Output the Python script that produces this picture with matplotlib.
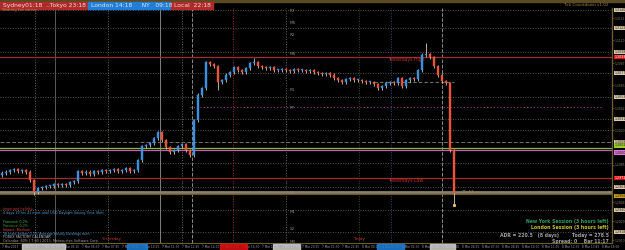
import matplotlib
matplotlib.use("Agg")
import matplotlib.pyplot as plt
from matplotlib.patches import Rectangle

# ---------------- data ----------------
first_open = 1.2975
closes = [
    1.2977, 1.2978, 1.2980, 1.2981, 1.2979, 1.2980, 1.2978, 1.2970, 1.2958, 1.2962,
    1.2963, 1.2964, 1.2964, 1.2966, 1.2965, 1.2966, 1.2965, 1.2968, 1.2969, 1.2979,
    1.2977, 1.2978, 1.2976, 1.2979, 1.2978, 1.2980, 1.2979, 1.2980, 1.2981, 1.2979,
    1.2980, 1.2982, 1.2979, 1.2980, 1.2990, 1.3004, 1.3005, 1.3007, 1.3012, 1.3018,
    1.3010, 1.3003, 1.2998, 1.3000, 1.3004, 1.3006, 1.3000, 1.2995, 1.3030, 1.3055,
    1.3062, 1.3088, 1.3086, 1.3084, 1.3068, 1.3070, 1.3075, 1.3078, 1.3083, 1.3080,
    1.3078, 1.3082, 1.3087, 1.3088, 1.3084, 1.3083, 1.3082, 1.3083, 1.3080, 1.3080,
    1.3081, 1.3080, 1.3079, 1.3081, 1.3080, 1.3080, 1.3079, 1.3080, 1.3078, 1.3077,
    1.3076, 1.3077, 1.3075, 1.3072, 1.3070, 1.3068, 1.3071, 1.3072, 1.3070, 1.3070,
    1.3069, 1.3068, 1.3068, 1.3066, 1.3062, 1.3064, 1.3067, 1.3068, 1.3067, 1.3072,
    1.3064, 1.3070, 1.3072, 1.3071, 1.3080, 1.3095, 1.3096, 1.3093, 1.3084, 1.3075,
    1.3069, 1.3067, 1.3000, 1.2957,
]
spike_bars = [8, 54, 63, 106, 113]
spike_prices = [1.2955, 1.3060, 1.3092, 1.3107, 1.2945]

yesterday_high = 1.3093
yesterday_low = 1.2972
green_level = 1.3002
magenta_level = 1.3000
beige_level = 1.2958
olive_level = 1.2956
grid_levels = [1.3140, 1.3122, 1.3098, 1.3077, 1.3053, 1.3031, 1.3020, 1.2987, 1.2963, 1.2940, 1.2918]
dashed_level = 1.3008
magenta_dotted_level = 1.3043
short_dashed_level = 1.3068

vlines_x = [8.25, 13.25, 26.5, 39.5, 45, 47.5, 57.75, 71, 89.25, 97.25, 110]
vlines_col = ["#6a6a5a", "#5a5a5a", "#6a6a5a", "#808080", "#6a6a5a", "#8a8a8a",
              "#a03030", "#6a6a5a", "#2a5a2a", "#2a4a8a", "#8a8a8a"]
vlines_ls = [":", "-", ":", "-", ":", "--", ":", ":", ":", ":", "--"]

pivot_labels = ["R3", "M5", "R2", "M4", "R1", "PP", "S1", "M1", "S2", "M0"]
pivot_prices = [1.3139, 1.3127, 1.3115, 1.3096, 1.3060, 1.3042, 1.2957, 1.2938, 1.2921, 1.2908]

time_labels = [
    "7 Mar 2013", "7 Mar 02:45", "7 Mar 04:00", "7 Mar 05:15", "7 Mar 06:30",
    "7 Mar 07:45", "7 Mar 09:00", "7 Mar 10:15", "7 Mar 11:30", "7 Mar 12:45",
    "7 Mar 14:00", "7 Mar 15:15", "7 Mar 16:30", "7 Mar 17:45", "7 Mar 19:00",
    "7 Mar 20:15", "7 Mar 21:30", "7 Mar 22:45", "8 Mar 00:00", "8 Mar 01:15",
    "8 Mar 02:30", "8 Mar 03:45", "8 Mar 05:00", "8 Mar 06:15", "8 Mar 07:30",
    "8 Mar 08:45", "8 Mar 10:00", "8 Mar 11:15", "8 Mar 12:30", "8 Mar 13:45",
    "8 Mar 15:00",
]
time_label_bars = [5 * k for k in range(len(time_labels))]

box_levels = [1.3140, 1.3122, 1.3098, 1.3077, 1.3053, 1.3031, 1.3008, 1.2963, 1.2940, 1.2918]
dim_tick_prices = [1.3132, 1.3110, 1.3087, 1.3065, 1.3042, 1.3020, 1.2985, 1.2948, 1.2929, 1.2910]

# ---------------- figure ----------------
W, H = 625, 250
fig = plt.figure(figsize=(6.25, 2.5), dpi=100, facecolor="black")


def fx(x):
    return x / W


def fy(y):
    return 1 - y / H


ax = fig.add_axes([0, fy(243), fx(612), (243 - 8) / H])
ax.set_facecolor("black")
ax.set_xlim(-0.5, 152.5)
ax.set_ylim(1.2907, 1.3142)

for s in ["left", "top"]:
    ax.spines[s].set_visible(False)
ax.spines["right"].set_color("#6b5a2a")
ax.spines["right"].set_linewidth(1.0)
ax.spines["bottom"].set_color("#6b5a2a")
ax.spines["bottom"].set_linewidth(0.8)

ax.yaxis.tick_right()
ax.set_yticks(dim_tick_prices)
ax.set_yticklabels([f"{p:.4f}" for p in dim_tick_prices])
ax.tick_params(axis="y", colors="#8a7e66", labelsize=2.2, length=1.2, width=0.4, pad=0.6)
ax.set_xticks(time_label_bars)
ax.set_xticklabels(time_labels)
ax.tick_params(axis="x", colors="#9a9a9a", labelsize=2.1, length=1.0, width=0.4, pad=0.7)
for lbl in ax.get_xticklabels():
    lbl.set_horizontalalignment("left")

# grid / levels
for lv in grid_levels:
    ax.axhline(lv, color="#707062", lw=0.6, ls=(0, (1, 2)), zorder=1)
ax.axhline(dashed_level, color="#707062", lw=0.7, ls=(0, (4, 2)), zorder=1)
ax.hlines(magenta_dotted_level, 47, 150, color="#a030a0", lw=0.8, ls=(0, (1, 2)), zorder=1)
ax.hlines(short_dashed_level, 93, 113, color="#707062", lw=0.8, ls=(0, (3, 2)), zorder=1)
for x, c, ls in zip(vlines_x, vlines_col, vlines_ls):
    ax.axvline(x, color=c, lw=0.7, ls=ls, zorder=1)

ax.axhline(yesterday_high, color="#a52a2a", lw=0.9, zorder=2)
ax.axhline(yesterday_low, color="#a52a2a", lw=0.9, zorder=2)
ax.axhline(green_level, color="#8cb43c", lw=0.9, zorder=2)
ax.axhline(magenta_level, color="#c060c0", lw=0.9, zorder=2)
ax.axhline(beige_level, color="#8a8070", lw=2.0, zorder=2)
ax.axhline(olive_level, color="#6b5a20", lw=0.8, zorder=2)

# candles
opens = [first_open] + closes[:-1]
for i, (o, c) in enumerate(zip(opens, closes)):
    lo, hi = min(o, c), max(o, c)
    wl, wh = lo - 0.00015, hi + 0.00015
    if i in spike_bars:
        p = spike_prices[spike_bars.index(i)]
        wl, wh = min(wl, p), max(wh, p)
    ax.vlines(i, wl, wh, color="#d8c8a8", lw=0.6, zorder=4)
    col = "#3d8fe0" if c >= o else "#e8553a"
    ax.bar(i, max(hi - lo, 0.00006), bottom=lo, width=0.65, color=col,
           edgecolor=col, linewidth=0.3, zorder=5)
ax.plot(len(closes) - 1, spike_prices[-1], marker="s", ms=1.2, color="#e0c060", zorder=6)

# in-chart labels
ax.text(96.5, yesterday_high - 0.0002, "Yesterdays High", color="#c03030", fontsize=3.3, va="center")
ax.text(96.5, yesterday_low - 0.0002, "Yesterdays Low", color="#c03030", fontsize=3.3, va="center")
ax.text(115, beige_level, "15:47", color="#a08a40", fontsize=3.2, va="center")
for lab, p in zip(pivot_labels, pivot_prices):
    ax.text(72, p, lab, color="#8a8a80", fontsize=3.0, va="center")


# right axis boxes
def rbox(price, text, fc, tc="#201a10"):
    ax.text(1.004, price, text, transform=ax.get_yaxis_transform(), fontsize=2.3,
            color=tc, va="center", ha="left", clip_on=False, zorder=10,
            bbox=dict(boxstyle="square,pad=0.12", fc=fc, ec="none"))


for lv in box_levels:
    rbox(lv, f"{lv:.4f}", "#d8c8a8")
rbox(yesterday_high, f"{yesterday_high:.4f}", "#e01010", "#ffffff")
rbox(yesterday_low, f"{yesterday_low:.4f}", "#e01010", "#ffffff")
rbox(green_level + 0.00025, f"{green_level:.4f}", "#9acd32")
rbox(magenta_level - 0.00025, f"{magenta_level:.4f}", "#da70d6")
rbox(olive_level - 0.0002, f"{olive_level:.4f}", "#c8a020")

# ---------------- header ----------------
fig.add_artist(Rectangle((0, fy(1.5)), 1, 0.006, transform=fig.transFigure, color="#5a4a20"))
header = [(0, 87, "#b02a2a", "Sydney01:18  ..Tokyo 23:18"),
          (88, 170, "#1f7fd8", "London 14:18     NY   09:18"),
          (171, 213, "#b02a2a", "Local  22:18")]
for x0, x1, col, txt in header:
    fig.add_artist(Rectangle((fx(x0), fy(8.5)), fx(x1 - x0), (6.5) / H,
                             transform=fig.transFigure, color=col))
    fig.text(fx(x0 + 3), fy(5.2), txt, color="#f4dede", fontsize=4.3, va="center", ha="left")
fig.text(fx(2), fy(10.5), "Waiting for server...", color="#c08040", fontsize=2.8, va="center")
fig.text(fx(609), fy(4.5), "Tick Countdown v1.02", color="#a08040", fontsize=3.0, va="center", ha="right")

# ---------------- time axis highlight boxes ----------------
hl = [(22, 65, "#d0d0d0"), (127, 147, "#1f7fd8"), (220, 247, "#e01010"),
      (273, 300, "#d0d0d0"), (377, 404, "#1f7fd8"), (430, 455, "#d0d0d0")]
for x0, x1, col in hl:
    fig.add_artist(Rectangle((fx(x0), fy(249.5)), fx(x1 - x0), 5.5 / H,
                             transform=fig.transFigure, color=col, alpha=0.85, zorder=0.5))

# ---------------- info texts ----------------
info = [
    (209, "Important holiday", "#d03030"),
    (213, "4 days 19 hrs 41 mins until USD Daylight Saving Time Shift", "#4aa0e0"),
    (222, "Forecast: 0.2%", "#40c040"),
    (226, "Previous: 0.2%", "#40a040"),
    (229.5, "Impact: Medium", "#e04040"),
    (233.5, "16 mins before 0.3% Average Hourly Earnings m/m", "#4aa0e0"),
    (237.5, "FOREX FACTORY CALENDAR", "#c0c0c0"),
    (241, "Calendar: 60% | 7.00 | 2013, Metaquotes Software Corp.", "#a0a0a0"),
]
for y, t, c in info:
    fig.text(fx(3), fy(y), t, color=c, fontsize=2.4, va="center")
fig.text(fx(101), fy(239.3), "Yesterday", color="#d03030", fontsize=3.0, va="center")
fig.text(fx(353), fy(239.3), "Today", color="#d03030", fontsize=3.0, va="center")

right_info = [
    (222, "New York Session (3 hours left)", "#2e9e5e"),
    (228, "London Session (3 hours left)", "#d0c020"),
    (235, "ADR = 220.5   (8 days)        Today = 278.5", "#a0a0a0"),
    (241, "Spread: 0    Bar 11:17", "#a0a0a0"),
]
for y, t, c in right_info:
    fig.text(fx(609), fy(y), t, color=c, fontsize=3.3, va="center", ha="right", fontweight="bold")

fig.savefig("out.png", dpi=100, facecolor="black")
